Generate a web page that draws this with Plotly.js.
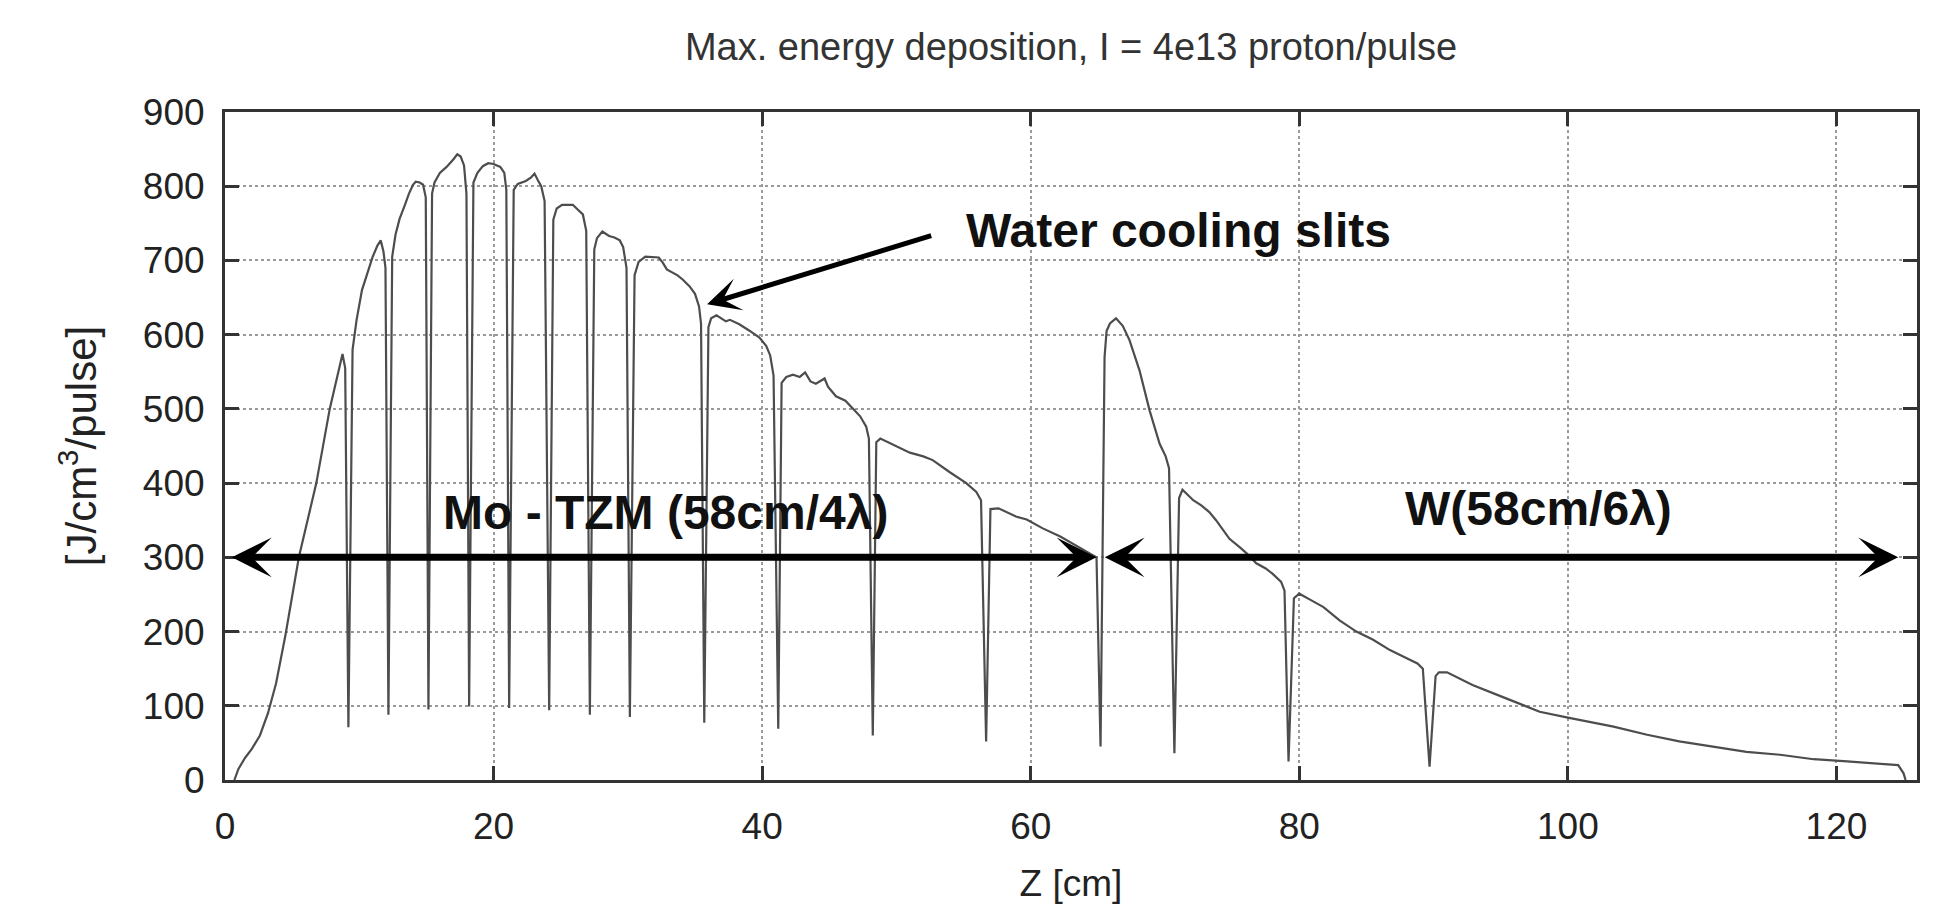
<!DOCTYPE html>
<html>
<head>
<meta charset="utf-8">
<script src="https://cdn.plot.ly/plotly-3.0.1.min.js"></script>
<style>
  html, body { margin: 0; padding: 0; background: #ffffff; }
  #chart { width: 1942px; height: 914px; }
</style>
</head>
<body>
<div id="chart"></div>
<script>
// Mo - TZM section: Z [cm] and energy deposition [J/cm3/pulse]
const zMo = [0.7, 1.0, 1.5, 2.0, 2.6, 3.2, 3.8, 4.5, 5.5, 6.8, 7.8, 8.4, 8.75, 8.95, 9.19,
  9.5, 9.8, 10.2, 10.5, 11.0, 11.35, 11.6, 11.8, 11.95, 12.17,
  12.45, 12.7, 13.0, 13.4, 13.7, 14.0, 14.2, 14.5, 14.75, 14.95, 15.15,
  15.42, 15.6, 16.0, 16.5, 17.0, 17.3, 17.55, 17.8, 17.98, 18.18,
  18.5, 18.8, 19.2, 19.6, 20.0, 20.5, 20.8, 20.95, 21.16,
  21.5, 21.8, 22.4, 22.8, 23.05, 23.3, 23.55, 23.8, 24.14,
  24.45, 24.7, 25.1, 25.9, 26.3, 26.65, 26.9, 27.17,
  27.5, 27.7, 28.1, 28.6, 29.0, 29.4, 29.65, 29.9, 30.15,
  30.5, 30.8, 31.3, 32.3, 32.6, 32.9, 33.3, 33.7, 34.1, 34.6, 35.0, 35.3, 35.45, 35.69,
  36.0, 36.2, 36.6, 37.0, 37.3, 37.6, 38.3, 39.0, 39.8, 40.3, 40.6, 40.85, 41.2,
  41.45, 41.8, 42.3, 42.8, 43.2, 43.6, 44.0, 44.4, 44.65, 44.9, 45.5, 46.2, 46.8, 47.3, 47.75, 47.95, 48.24,
  48.5, 48.8, 49.7, 51.0, 52.0, 52.7, 53.95, 55.2, 55.95, 56.3, 56.68,
  57.0, 57.6, 58.9, 59.7, 60.9, 62.2, 63.4, 64.4, 64.9, 65.2];
const eMo = [0, 15, 30, 42, 60, 90, 130, 195, 300, 400, 500, 548, 574, 555, 71,
  580, 620, 660, 676, 705, 720, 727, 712, 690, 88,
  705, 735, 756, 775, 790, 802, 806, 805, 802, 785, 95,
  790, 805, 818, 826, 836, 843, 840, 828, 790, 99,
  805, 818, 827, 831, 830, 826, 818, 795, 97,
  795, 803, 807, 812, 817, 808, 800, 780, 94,
  755, 770, 775, 775, 768, 762, 740, 88,
  715, 730, 739, 733, 731, 727, 718, 690, 85,
  680, 698, 705, 704, 697, 688, 684, 680, 674, 665, 655, 638, 615, 77,
  610, 622, 626, 622, 618, 620, 614, 606, 596, 585, 572, 545, 69,
  535, 543, 546, 543, 549, 537, 534, 538, 541, 530, 517, 511, 500, 490, 476, 460, 60,
  455, 460, 452, 441, 436, 431, 415, 400, 388, 377, 52,
  365, 366, 355, 351, 339, 328, 316, 305, 300, 45];

// W section
const zW = [65.5, 65.65, 65.9, 66.35, 66.85, 67.35, 68.1, 68.85, 69.6, 70.05, 70.3, 70.7,
  71.05, 71.3, 72.1, 72.7, 73.3, 73.8, 74.8, 75.6, 76.1, 76.8, 77.5, 78.0, 78.65, 78.9, 79.2,
  79.6, 80.0, 80.8, 81.8, 83.0, 84.25, 85.5, 86.75, 88.0, 88.8, 89.2, 89.7,
  90.15, 90.4, 91.0, 92.9, 95.4, 97.9, 100.0, 101.5, 103.4, 105.9, 108.3, 110.8, 113.3,
  115.8, 118.3, 120.8, 123.2, 124.6, 125.0, 125.15];
const eW = [570, 605, 615, 622, 612, 593, 552, 498, 453, 436, 420, 36,
  380, 391, 377, 370, 361, 350, 325, 313, 305, 292, 285, 278, 267, 255, 25,
  245, 251, 243, 233, 215, 200, 189, 175, 164, 157, 150, 18,
  140, 145, 145, 128, 110, 92, 84, 79, 72, 61, 52, 45, 38,
  34, 28, 25, 22, 20, 9, 0];

const titleText = "Max. energy deposition, I = 4e13 proton/pulse";
const xTitle = "Z [cm]";
const yTitle = "[J/cm<sup>3</sup>/pulse]";
const labelMo = "Mo - TZM (58cm/4λ)";
const labelW = "W(58cm/6λ)";
const labelSlits = "Water cooling slits";

const FONT = "Liberation Sans, Arial, Helvetica, sans-serif";

const trace = {
  x: zMo.concat(zW),
  y: eMo.concat(eW),
  type: "scatter",
  mode: "lines",
  line: { color: "#4d4d4d", width: 2.2 },
  hoverinfo: "x+y",
  showlegend: false
};

const axisCommon = {
  showline: true,
  linecolor: "#333333",
  linewidth: 3,
  mirror: "ticks",
  ticks: "inside",
  ticklen: 14,
  tickwidth: 2.5,
  tickcolor: "#333333",
  showgrid: true,
  gridcolor: "#9a9a9a",
  gridwidth: 1.5,
  griddash: "dot",
  zeroline: false,
  tickfont: { family: FONT, size: 37, color: "#222222" }
};

const layout = {
  width: 1942,
  height: 914,
  paper_bgcolor: "#ffffff",
  plot_bgcolor: "#ffffff",
  margin: { l: 225, r: 25, t: 112, b: 134 },
  title: {
    text: titleText,
    font: { family: FONT, size: 38, color: "#333333" },
    x: 0.5, xref: "paper", xanchor: "center",
    y: 1 - 47 / 914, yref: "container", yanchor: "middle"
  },
  xaxis: Object.assign({}, axisCommon, {
    range: [0, 126],
    tick0: 0, dtick: 20,
    ticklabelstandoff: 12,
    title: { text: xTitle, font: { family: FONT, size: 37, color: "#222222" }, standoff: 24 }
  }),
  yaxis: Object.assign({}, axisCommon, {
    range: [0, 900],
    tick0: 0, dtick: 100,
    ticklabelstandoff: 10,
    title: { text: yTitle, font: { family: FONT, size: 42, color: "#222222" }, standoff: 34 }
  }),
  annotations: [
    { x: 64.9, y: 300, ax: 0.4, ay: 300, xref: "x", yref: "y", axref: "x", ayref: "y",
      text: "", showarrow: true, arrowside: "end+start", arrowhead: 3, startarrowhead: 3,
      arrowsize: 0.95, startarrowsize: 0.95, arrowwidth: 7, arrowcolor: "#000000" },
    { x: 124.6, y: 300, ax: 65.4, ay: 300, xref: "x", yref: "y", axref: "x", ayref: "y",
      text: "", showarrow: true, arrowside: "end+start", arrowhead: 3, startarrowhead: 3,
      arrowsize: 0.95, startarrowsize: 0.95, arrowwidth: 7, arrowcolor: "#000000" },
    { x: 35.9, y: 641, ax: 52.7, ay: 734, xref: "x", yref: "y", axref: "x", ayref: "y",
      text: "", showarrow: true, arrowhead: 3, arrowsize: 1.1, arrowwidth: 5, arrowcolor: "#000000" },
    { x: 70.97, y: 741, xref: "x", yref: "y", text: "<b>" + labelSlits + "</b>", showarrow: false,
      xanchor: "center", yanchor: "middle", font: { family: FONT, size: 48, color: "#111111" } },
    { x: 32.8, y: 361, xref: "x", yref: "y", text: "<b>" + labelMo + "</b>", showarrow: false,
      xanchor: "center", yanchor: "middle", font: { family: FONT, size: 48, color: "#111111" } },
    { x: 97.8, y: 366, xref: "x", yref: "y", text: "<b>" + labelW + "</b>", showarrow: false,
      xanchor: "center", yanchor: "middle", font: { family: FONT, size: 48, color: "#111111" } }
  ]
};

Plotly.newPlot("chart", [trace], layout, { displayModeBar: false });
</script>
</body>
</html>
